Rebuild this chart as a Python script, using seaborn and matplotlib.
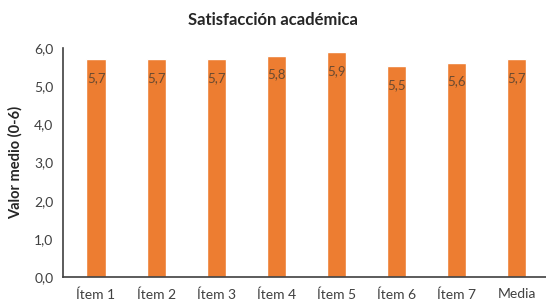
import pandas as pd
import matplotlib
matplotlib.use("Agg")
import matplotlib.pyplot as plt
import seaborn as sns

# Datos
items = ["Ítem 1", "Ítem 2", "Ítem 3", "Ítem 4", "Ítem 5", "Ítem 6", "Ítem 7", "Media"]
valores = [5.72, 5.72, 5.72, 5.80, 5.89, 5.53, 5.62, 5.72]
etiquetas = ["5,7", "5,7", "5,7", "5,8", "5,9", "5,5", "5,6", "5,7"]
yticks = [0, 1, 2, 3, 4, 5, 6]
ytick_labels = ["0,0", "1,0", "2,0", "3,0", "4,0", "5,0", "6,0"]

df = pd.DataFrame({"Item": items, "Valor": valores})

sns.set_style("white")
plt.rcParams["font.family"] = ["Lato", "DejaVu Sans"]

fig = plt.figure(figsize=(5.46, 3.04), dpi=100)
ax = fig.add_axes([63 / 546, 1 - 277 / 304, 1 - 63 / 546, (277 - 48) / 304])

sns.barplot(x="Item", y="Valor", data=df, color="#ED7D31", width=0.32,
            saturation=1, ax=ax)

ax.bar_label(ax.containers[0], labels=etiquetas, padding=-18,
             fontsize=9.5, color="#6a4a30")

ax.set_ylim(0, 6)
ax.set_xlim(-0.55, 7.49)
ax.set_yticks(yticks)
ax.set_yticklabels(ytick_labels)
ax.tick_params(axis="both", length=0, labelsize=10, colors="#404040")
ax.tick_params(axis="x", pad=8)
ax.tick_params(axis="y", pad=7)

for s in ["top", "right"]:
    ax.spines[s].set_visible(False)
ax.spines["left"].set_color("#404040")
ax.spines["bottom"].set_color("#404040")
ax.spines["left"].set_linewidth(1.2)
ax.spines["bottom"].set_linewidth(1.2)

ax.set_xlabel("")
ax.set_ylabel("Valor medio (0-6)", fontsize=10.5, fontweight="bold", labelpad=8)
fig.text(0.5, 1 - 20 / 304, "Satisfacción académica", ha="center", va="center",
         fontsize=12, fontweight="bold")

fig.savefig("out.png", dpi=100)
